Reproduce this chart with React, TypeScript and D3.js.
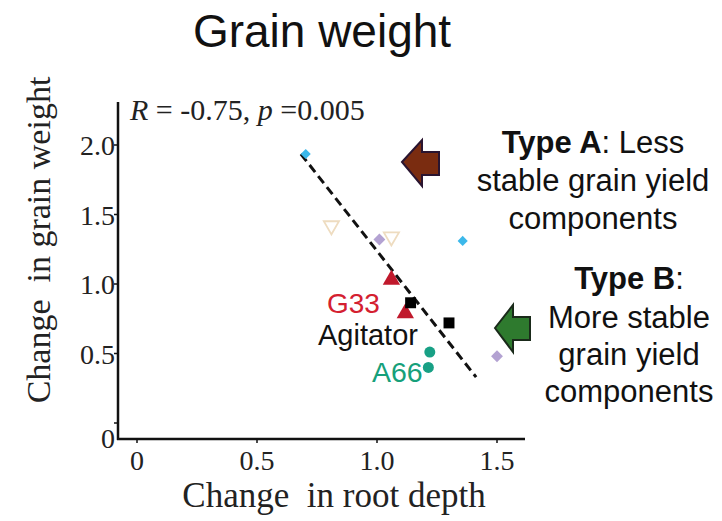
import React from "react";
import * as d3 from "d3";

const xTicks = [0, 0.5, 1.0, 1.5];
const xTickLabels = ["0", "0.5", "1.0", "1.5"];
const yTicks = [0, 0.5, 1.0, 1.5, 2.0];
const yTickLabels = ["0", "0.5", "1.0", "1.5", "2.0"];

// points: root depth change (x), grain weight change (y)
const cyanX = [0.703, 1.357];
const cyanY = [1.935, 1.31];
const openTriX = [0.81, 1.06];
const openTriY = [1.42, 1.34];
const purpleX = [1.01, 1.5];
const purpleY = [1.32, 0.48];
const redX = [1.06, 1.118];
const redY = [1.03, 0.79];
const blackX = [1.14, 1.3];
const blackY = [0.865, 0.72];
const tealX = [1.22, 1.214];
const tealY = [0.51, 0.4];
const fitX = [0.683, 1.413];
const fitY = [1.935, 0.33];

const W = 722;
const H = 521;

export default function App() {
  const x = d3.scaleLinear().domain([0, 1.5]).range([137, 497]);
  const y = d3.scaleLinear().domain([0, 2]).range([423, 145]);
  const serif = "'Liberation Serif', 'Times New Roman', serif";
  const sans = "'Liberation Sans', Arial, sans-serif";
  const line = d3.line<number>().x((d, i) => x(fitX[i])).y((d, i) => y(fitY[i]));
  const diamond = d3.symbol().type(d3.symbolDiamond2);
  const tri = d3.symbol().type(d3.symbolTriangle);
  const sq = d3.symbol().type(d3.symbolSquare);

  return (
    <svg width={W} height={H} style={{ position: "absolute", left: 0, top: 0, background: "#fff" }}>
      <text x={322} y={47} fontFamily={sans} fontSize={46} textAnchor="middle" fill="#111">Grain weight</text>
      {/* axes */}
      <line x1={118} y1={102} x2={118} y2={440} stroke="#111" strokeWidth={2.5} />
      <line x1={117} y1={439} x2={525} y2={439} stroke="#111" strokeWidth={2.5} />
      {yTicks.map((t, i) => (
        <g key={"y" + i}>
          <line x1={114} x2={118} y1={y(t)} y2={y(t)} stroke="#111" strokeWidth={1.5} />
          <text x={115} y={t === 0 ? 448 : y(t) + 10} fontFamily={serif} fontSize={28} textAnchor="end" fill="#222">{yTickLabels[i]}</text>
        </g>
      ))}
      {xTicks.map((t, i) => (
        <g key={"x" + i}>
          <line x1={x(t)} x2={x(t)} y1={439} y2={443} stroke="#111" strokeWidth={1.5} />
          <text x={x(t)} y={470} fontFamily={serif} fontSize={28} textAnchor="middle" fill="#222">{xTickLabels[i]}</text>
        </g>
      ))}
      <text x={334} y={507} fontFamily={serif} fontSize={35} textAnchor="middle" fill="#222" style={{ whiteSpace: "pre" }}>Change  in root depth</text>
      <text transform="translate(50,240) rotate(-90)" fontFamily={serif} fontSize={34} textAnchor="middle" fill="#222" style={{ whiteSpace: "pre" }}>Change  in grain weight</text>
      <text x={130} y={120} fontFamily={serif} fontSize={30} fill="#222">
        <tspan fontStyle="italic">R</tspan> = -0.75, <tspan fontStyle="italic">p</tspan> =0.005
      </text>
      {/* fit line */}
      <path d={line(fitX) || ""} fill="none" stroke="#111" strokeWidth={3} strokeDasharray="9,5" />
      {/* points */}
      {openTriX.map((v, i) => (
        <path key={"ot" + i} d={tri.size(100)() || ""} transform={`translate(${x(v)},${y(openTriY[i])}) rotate(180)`} fill="none" stroke="#eedcc0" strokeWidth={1.8} />
      ))}
      {cyanX.map((v, i) => (
        <path key={"c" + i} d={diamond.size(65)() || ""} transform={`translate(${x(v)},${y(cyanY[i])})`} fill="#3cb8ea" />
      ))}
      {purpleX.map((v, i) => (
        <path key={"p" + i} d={diamond.size(90)() || ""} transform={`translate(${x(v)},${y(purpleY[i])})`} fill="#b3a2d2" />
      ))}
      {redX.map((v, i) => (
        <path key={"r" + i} d={tri.size(130)() || ""} transform={`translate(${x(v)},${y(redY[i])})`} fill="#c0192c" />
      ))}
      {blackX.map((v, i) => (
        <path key={"b" + i} d={sq.size(120)() || ""} transform={`translate(${x(v)},${y(blackY[i])})`} fill="#000" />
      ))}
      {tealX.map((v, i) => (
        <circle key={"t" + i} cx={x(v)} cy={y(tealY[i])} r={5.5} fill="#18a085" />
      ))}
      <text x={327} y={313} fontFamily={sans} fontSize={28} fill="#d42030">G33</text>
      <text x={318} y={345} fontFamily={sans} fontSize={29} fill="#111">Agitator</text>
      <text x={372} y={382} fontFamily={sans} fontSize={28.5} fill="#16a07a">A66</text>
      {/* arrows */}
      <path d="M402,162 L422,140 L422,152 L439,152 L439,175 L422,175 L422,186 Z" fill="#7a2c10" stroke="#2a1530" strokeWidth={2} />
      <path d="M495,328 L513,305 L513,317 L530,317 L530,340 L513,340 L513,352 Z" fill="#2e7a2e" stroke="#1a2a1a" strokeWidth={2} />
      {/* annotation text */}
      <g fontFamily={sans} fontSize={31} fill="#111" textAnchor="middle">
        <text x={593} y={153}><tspan fontWeight="bold">Type A</tspan>: Less</text>
        <text x={593} y={191}>stable grain yield</text>
        <text x={593} y={229}>components</text>
        <text x={629} y={289}><tspan fontWeight="bold">Type B</tspan>:</text>
        <text x={629} y={328}>More stable</text>
        <text x={629} y={365}>grain yield</text>
        <text x={629} y={402}>components</text>
      </g>
    </svg>
  );
}
